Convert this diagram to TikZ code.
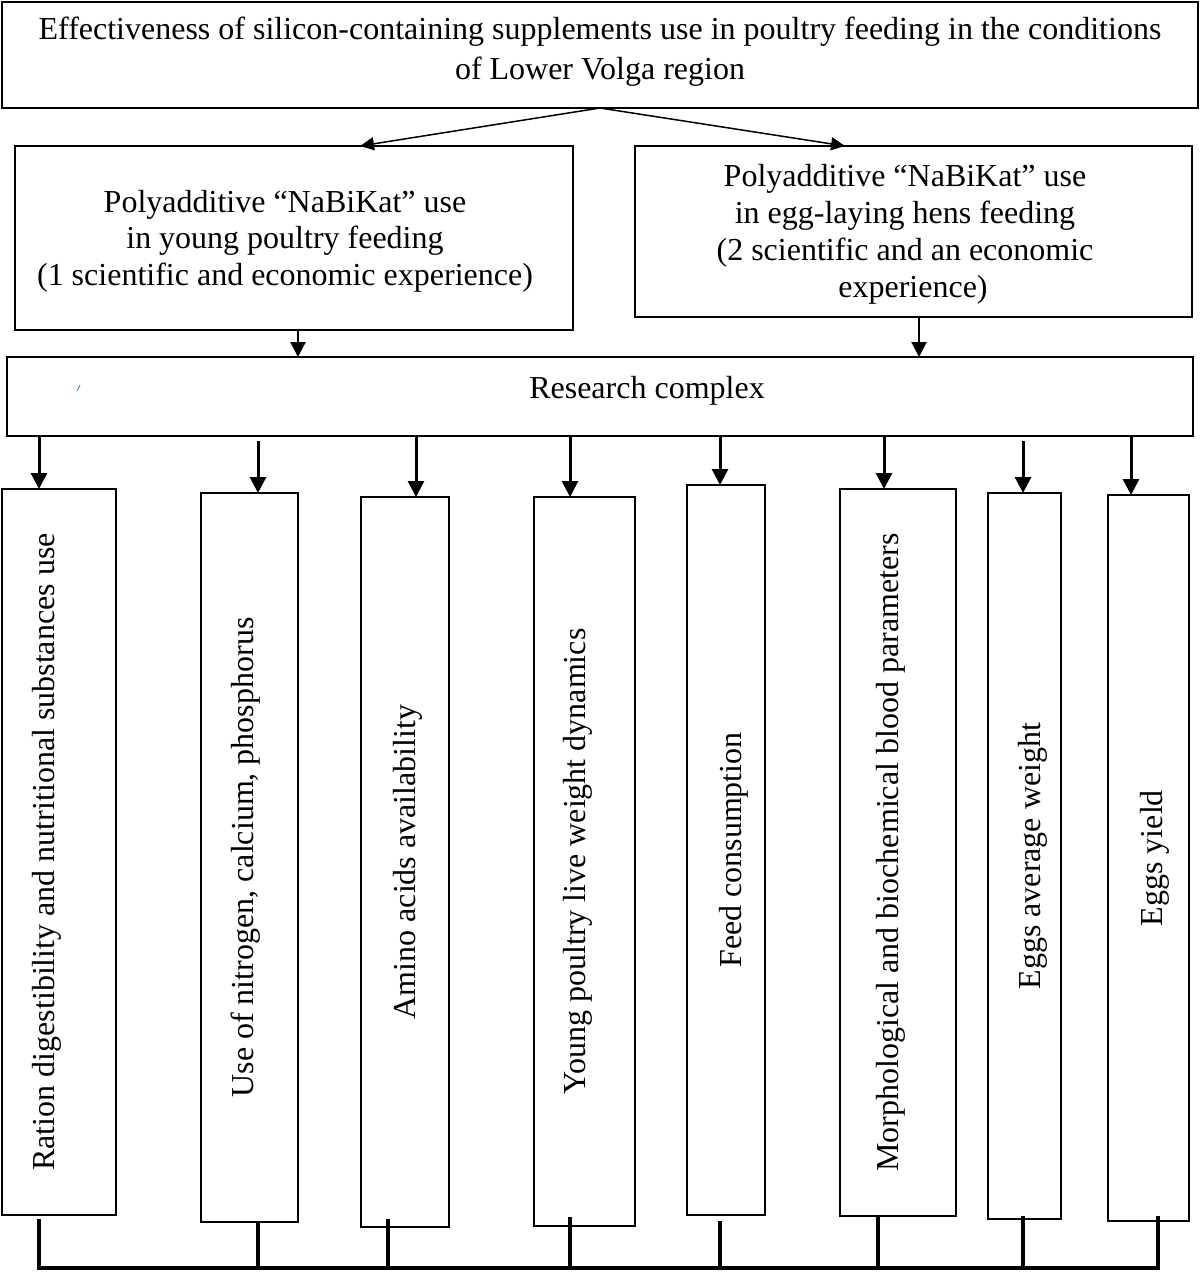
\documentclass[tikz,border=0pt]{standalone}
\usepackage{fontspec}
\setmainfont{Liberation Serif}
\usetikzlibrary{arrows.meta,calc}
\definecolor{strayblue}{RGB}{70,140,220}
\begin{document}
\begin{tikzpicture}[x=1pt,y=-1pt,
  box/.style={draw, line width=2pt, inner sep=0pt, outer sep=0pt, rectangle, fill=white},
  txt/.style={font=\fontsize{32}{37}\selectfont, align=center, inner sep=0pt},
  vtxt/.style={font=\fontsize{32}{37}\selectfont, rotate=90, anchor=base, inner sep=0pt},
  thinarr/.style={line width=1.5pt, -{Triangle[length=14pt,width=13pt]}},
  arr/.style={line width=2.2pt, -{Triangle[length=15pt,width=15pt]}},
  bigarr/.style={line width=3pt, -{Triangle[length=16pt,width=16pt]}},
  drop/.style={line width=3.5pt},
  bus/.style={line width=4pt, line cap=rect}]
\useasboundingbox (0,0) rectangle (1200,1273);
\fill[white] (0,0) rectangle (1200,1273);

% top level
\node[box, minimum width=1196pt, minimum height=106pt] (top) at (600,55) {};
\node[txt, anchor=base, font=\fontsize{32}{40}\selectfont] (toptxt) at (600,80)
  {Effectiveness of silicon-containing supplements use in poultry feeding in the conditions\\of Lower Volga region};

% second level
\node[box, minimum width=558pt, minimum height=184pt] (L) at (294,238) {};
\node[txt, anchor=base, font=\fontsize{32}{36.5}\selectfont] (Ltxt) at (285,285)
  {Polyadditive “NaBiKat” use\\in young poultry feeding\\(1 scientific and economic experience)};
\node[box, minimum width=557pt, minimum height=171pt] (R) at (913.5,231.5) {};
\node[txt, anchor=base, font=\fontsize{32}{36.7}\selectfont] (Rtxt) at (905,297)
  {Polyadditive “NaBiKat” use\\in egg-laying hens feeding\\(2 scientific and an economic\\\hspace*{16pt}experience)};

% research complex
\node[box, minimum width=1186pt, minimum height=79pt] (RC) at (600,396.5) {};
\node[txt, anchor=base] (RCtxt) at (647,398) {Research complex};
\draw[strayblue, line width=1pt] (77,391) -- (80,385);

% top arrows
\coordinate (tl) at (360,0);
\coordinate (tr) at (845,0);
\draw[thinarr] (top.south) -- (L.north -| tl);
\draw[thinarr] (top.south) -- (R.north -| tr);
\coordinate (pl) at (298,0);
\coordinate (pr) at (919,0);
\draw[arr] (L.south -| pl) -- (RC.north -| pl);
\draw[arr] (R.south -| pr) -- (RC.north -| pr);

% bottom boxes
\node[box, minimum width=114pt, minimum height=726pt] (b1) at (59,852) {};
\node[box, minimum width=97pt,  minimum height=729pt] (b2) at (249.5,857.5) {};
\node[box, minimum width=88pt,  minimum height=730pt] (b3) at (405,862) {};
\node[box, minimum width=101pt, minimum height=729pt] (b4) at (584.5,861.5) {};
\node[box, minimum width=78pt,  minimum height=730pt] (b5) at (726,850) {};
\node[box, minimum width=116pt, minimum height=727pt] (b6) at (898,852.5) {};
\node[box, minimum width=73pt,  minimum height=726pt] (b7) at (1024.5,856) {};
\node[box, minimum width=81pt,  minimum height=726pt] (b8) at (1148.5,858) {};

\node[vtxt] (t1) at (54,852)   {Ration digestibility and nutritional substances use};
\node[vtxt] (t2) at (253,857.5) {Use of nitrogen, calcium, phosphorus};
\node[vtxt] (t3) at (415,862)  {Amino acids availability};
\node[vtxt] (t4) at (585,861.5) {Young poultry live weight dynamics};
\node[vtxt] (t5) at (741,850)  {Feed consumption};
\node[vtxt] (t6) at (898,852.5) {Morphological and biochemical blood parameters};
\node[vtxt] (t7) at (1040,856) {Eggs average weight};
\node[vtxt] (t8) at (1162,858) {Eggs yield};

% arrows from research complex
\foreach \n/\x/\s in {1/39/0,2/258/5,3/416/0,4/570/0,5/720/0,6/884/0,7/1023/5,8/1131/0}{
  \coordinate (a\n) at (\x,0);
  \draw[bigarr] ($(RC.south -| a\n)+(0,\s)$) -- (b\n.north -| a\n);
}

% bus at the bottom
\coordinate (busL) at (39,1268);
\coordinate (busR) at (1158,1268);
\foreach \n/\x/\s in {1/39/4,2/258/0,3/388/-8,4/570/-9,5/720/6,6/878/0,7/1023/-3,8/1158/-5}{
  \coordinate (d\n) at (\x,0);
  \draw[drop] ($(b\n.south -| d\n)+(0,\s)$) -- (busL -| d\n);
}
\draw[bus] (busL) -- (busR);
\end{tikzpicture}
\end{document}
